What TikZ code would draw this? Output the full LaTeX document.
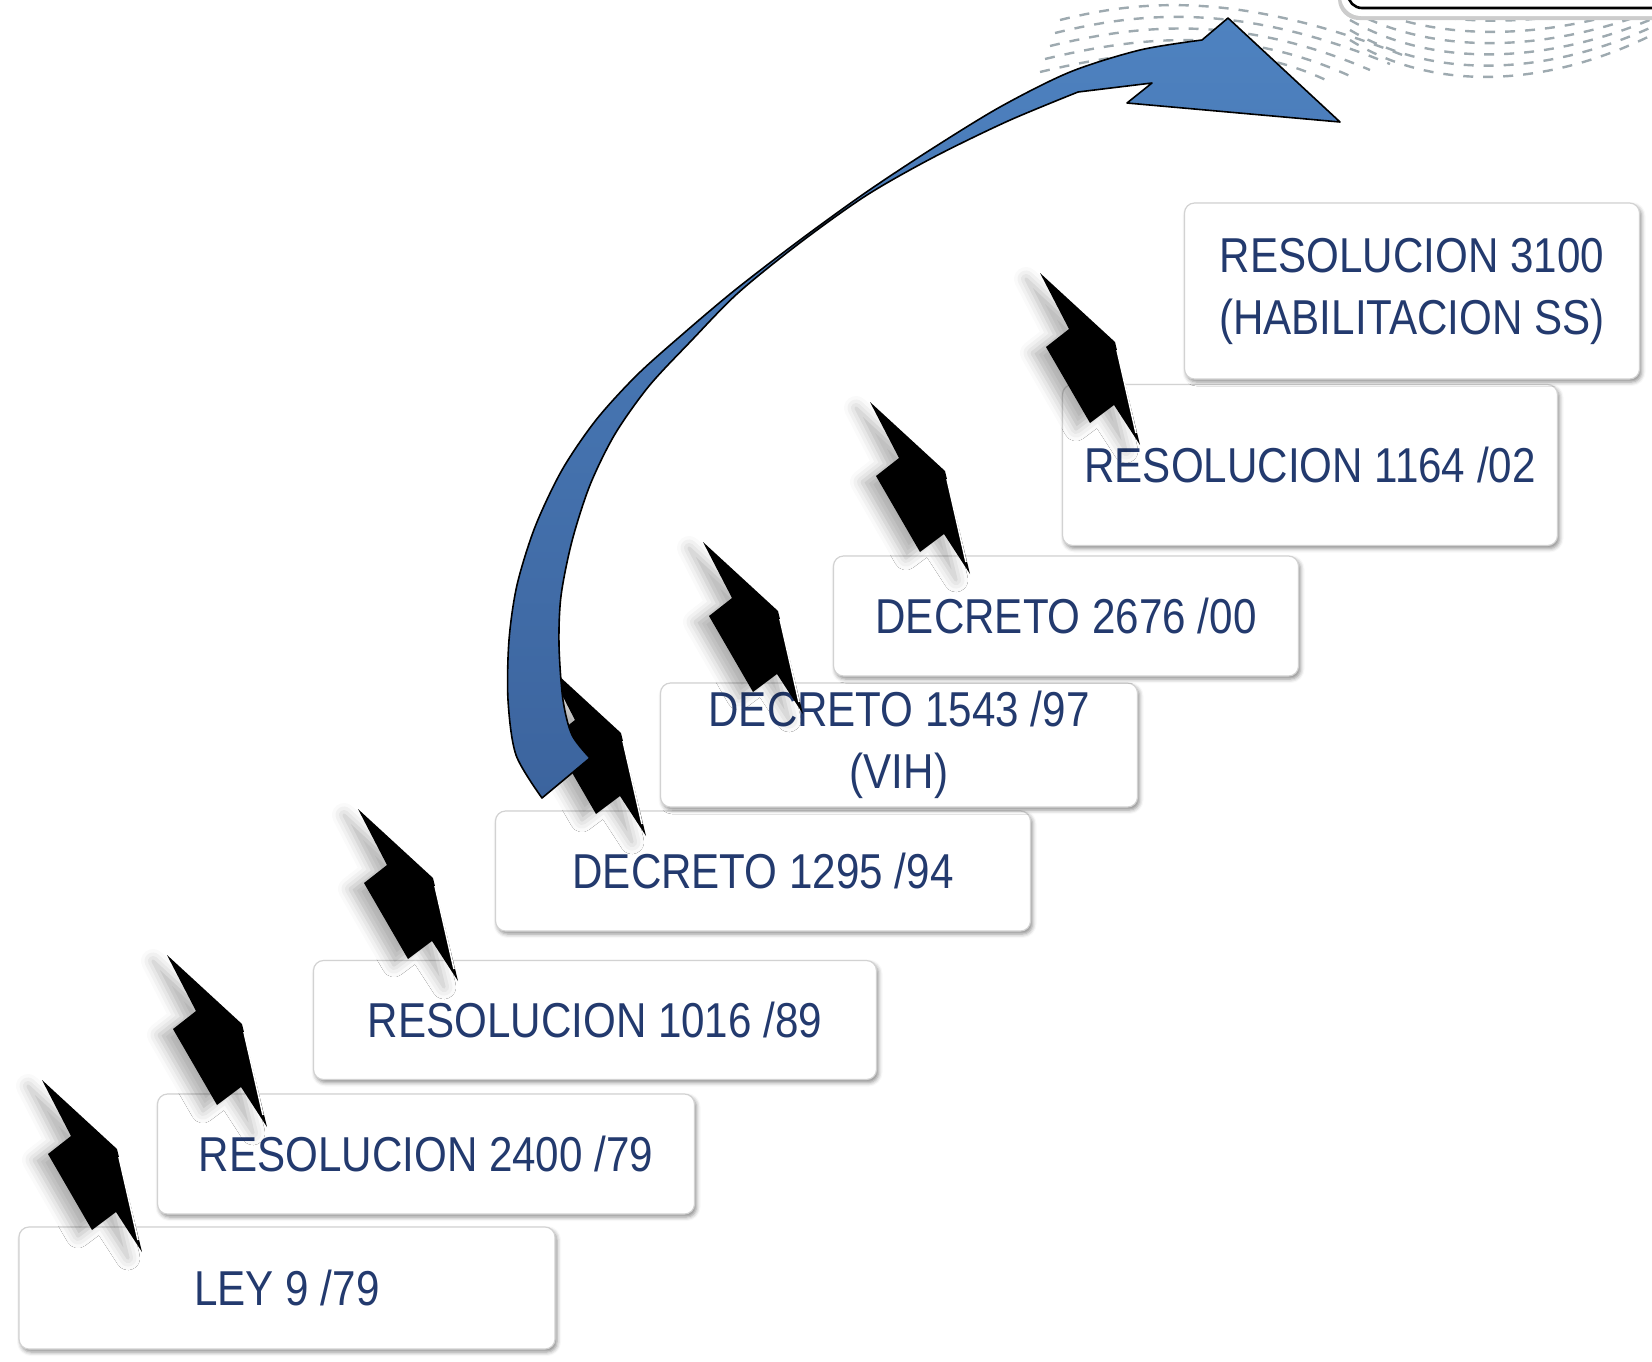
\documentclass[tikz,border=0pt]{standalone}
\usepackage{fontspec}
\setmainfont{Liberation Sans}[FakeStretch=0.86]
\usetikzlibrary{shadows.blur}

\definecolor{lawblue}{RGB}{35,58,110}
\definecolor{arrowblue}{RGB}{78,130,192}
\definecolor{arrowdark}{RGB}{60,100,158}
\definecolor{dashgray}{RGB}{158,170,176}

\tikzset{
  law/.style={draw=gray!35, line width=0.6pt, fill=white, rounded corners=5pt,
    text=lawblue, font=\fontsize{24.5}{31}\selectfont, align=center, inner sep=0pt,
    blur shadow={shadow xshift=1pt, shadow yshift=-1.5pt, shadow blur radius=2pt, shadow opacity=45}},
  bolt/.pic={
    \fill[black, blur shadow={shadow xshift=-7pt, shadow yshift=-3pt, shadow blur radius=6pt, shadow opacity=30}]
      (0,0) -- (75,69) -- (100,172) -- (74,132) -- (50,150) -- (6,74) -- (29,56) -- cycle;
    \draw[white, line width=0.8pt] (77,77) -- (96,160);
  },
  wave/.style={dashgray, line width=1.2pt, dash pattern=on 5pt off 5pt},
}

\begin{document}
\begin{tikzpicture}[x=0.5pt, y=-0.5pt]
  \useasboundingbox (0,0) rectangle (1652,1361);

  % background waves and the cut frame at the top
  \begin{scope}
    \clip (0,0) rectangle (1652,1361);
    \foreach \k in {0,...,4}
      \draw[wave] ({1060-5*\k},{20+13*\k}) .. controls (1140,{0+12*\k}) and (1240,{-10+12*\k}) .. ({1410-20*\k},{58+6*\k});
    \foreach \k in {0,...,5}
      \draw[wave] (1350,{-10+10*\k}) .. controls (1430,{30+12*\k}) and (1540,{30+12*\k}) .. (1652,{-5+8*\k});
    \draw[gray!40, line width=5pt, rounded corners=8pt] (1343,-60) rectangle (1720,15);
    \draw[white, line width=4pt, rounded corners=8pt] (1345,-60) rectangle (1720,12);
    \draw[black, line width=1.3pt, fill=white, rounded corners=7pt] (1348,-60) rectangle (1720,8);
  \end{scope}

  % steps
  \node[law, minimum width=268pt, minimum height=61pt] (ley) at (287,1288) {LEY 9 /79};
  \node[law, minimum width=268.5pt, minimum height=60pt] (res2400) at (426,1154) {RESOLUCION 2400 /79};
  \node[law, minimum width=281.5pt, minimum height=59.5pt] (res1016) at (595,1020) {RESOLUCION 1016 /89};
  \node[law, minimum width=267.5pt, minimum height=60pt] (dec1295) at (763,871) {DECRETO 1295 /94};
  \node[law, minimum width=238.5pt, minimum height=62pt] (dec1543) at (899,745) {DECRETO 1543 /97\\(VIH)};
  \node[law, minimum width=232.5pt, minimum height=60pt] (dec2676) at (1066,616) {DECRETO 2676 /00};
  \node[law, minimum width=247.5pt, minimum height=80.5pt] (res1164) at (1310,465) {RESOLUCION 1164 /02};
  \node[law, minimum width=227.5pt, minimum height=88pt] (res3100) at (1412,291) {RESOLUCION 3100\\(HABILITACION SS)};

  % bolts
  \pic at (42,1080) {bolt};
  \pic at (167,955) {bolt};
  \pic at (358,809) {bolt};
  \pic at (546,664) {bolt};
  \pic at (703,542) {bolt};
  \pic at (870,402) {bolt};
  \pic at (1040,273) {bolt};

  % big curved arrow
  \filldraw[draw=black, line width=0.8pt, line join=round, top color=arrowblue, bottom color=arrowdark]
    plot[smooth, tension=0.5] coordinates {(542,798) (516,755) (508,700) (509,640) (517,585) (535,527)
      (562,470) (596,420) (637,375) (684,333) (735,290) (800,240) (865,193) (930,150) (1000,107)
      (1070,72) (1140,50) (1202,40)}
    -- (1228,18) -- (1340,122) -- (1127,103) -- (1152,83)
    -- plot[smooth, tension=0.5] coordinates {(1078,92) (1008,121) (934,157) (867,195) (801,242)
      (738,293) (691,341) (649,386) (615,434) (590,485) (572,541) (561,596) (559,645) (563,700)
      (572,735) (590,758)}
    -- cycle;
\end{tikzpicture}
\end{document}
